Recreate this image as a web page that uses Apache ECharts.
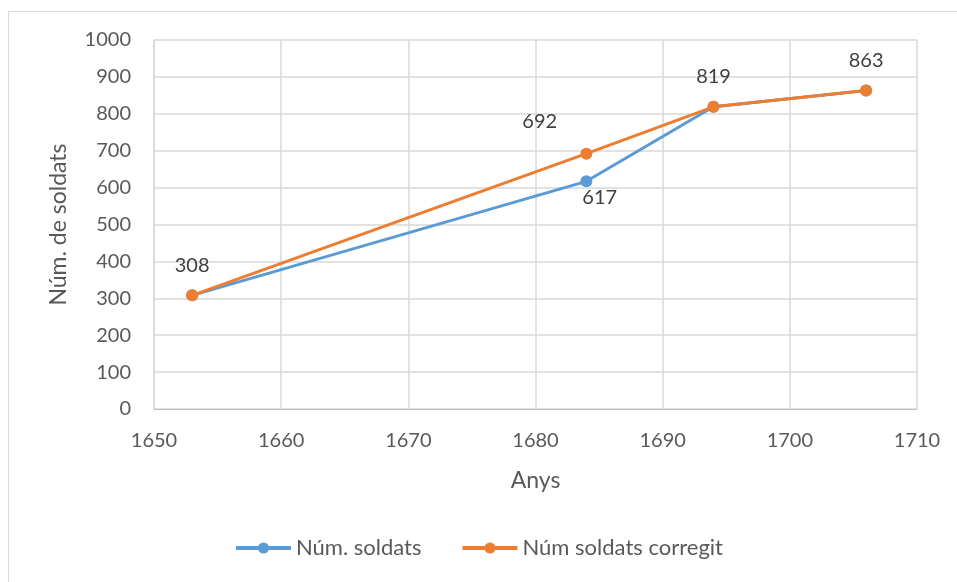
<!DOCTYPE html>
<html>
<head>
<meta charset="utf-8">
<title>Núm. de soldats</title>
<style>
  html, body { margin: 0; padding: 0; background: #fff; }
  #chart { width: 957px; height: 582px; }
  .frame { position: absolute; left: 8px; top: 11px; width: 960px; height: 600px; border: 1px solid #d9d9d9; box-sizing: border-box; pointer-events: none; }
</style>
</head>
<body>
<div id="chart"></div>
<div class="frame"></div>
<script src="https://cdn.jsdelivr.net/npm/echarts@6/dist/echarts.min.js"></script>
<script>
// dades
var anys = [1653, 1684, 1694, 1706];
var soldats = [308, 617, 819, 863];
var corregit = [308, 692, 819, 863];
var seriesNames = ['Núm. soldats', 'Núm soldats corregit'];

var textColor = '#595959';
var fontFam = 'Lato, "Open Sans", sans-serif';

function pairs(xs, ys) {
  return xs.map(function (x, i) { return [x, ys[i]]; });
}
function plain(v) { return String(v); }

// blue: only the 617 label shows (below), orange: the rest
var blueData = pairs(anys, soldats).map(function (p, i) {
  return { value: p, label: { show: i === 1, position: [2, 12] } };
});
var orangeData = pairs(anys, corregit).map(function (p, i) {
  var pos = i === 1 ? [-58, -36] : 'top';
  return { value: p, label: { show: true, position: pos, distance: 14 } };
});

var chart = echarts.init(document.getElementById('chart'));
chart.setOption({
  animation: false,
  textStyle: { fontFamily: fontFam },
  grid: { left: 154, right: 40, top: 40, bottom: 173 },
  legend: {
    bottom: 18,
    left: 'center',
    itemWidth: 55,
    itemHeight: 14,
    itemGap: 39,
    lineStyle: { width: 4 },
    textStyle: { color: textColor, fontSize: 22, fontFamily: fontFam },
    data: seriesNames
  },
  xAxis: {
    type: 'value',
    min: 1650, max: 1710, interval: 10,
    name: 'Anys',
    nameLocation: 'middle',
    nameGap: 60,
    nameTextStyle: { color: textColor, fontSize: 23 },
    axisLine: { show: true, lineStyle: { color: '#bfbfbf', width: 1 } },
    axisTick: { show: false },
    axisLabel: { color: textColor, fontSize: 20, margin: 22, formatter: plain },
    splitLine: { show: true, lineStyle: { color: '#d9d9d9', width: 1.5 } }
  },
  yAxis: {
    type: 'value',
    min: 0, max: 1000, interval: 100,
    name: 'Núm. de soldats',
    nameLocation: 'middle',
    nameGap: 84,
    nameTextStyle: { color: textColor, fontSize: 23 },
    axisLine: { show: true, lineStyle: { color: '#d9d9d9', width: 1.5 } },
    axisTick: { show: false },
    axisLabel: { color: textColor, fontSize: 20, margin: 23, formatter: plain },
    splitLine: { show: true, lineStyle: { color: '#d9d9d9', width: 1.5 } }
  },
  series: [
    {
      name: seriesNames[0],
      type: 'line',
      data: blueData,
      symbol: 'circle',
      symbolSize: 12,
      itemStyle: { color: '#5b9bd5' },
      lineStyle: { color: '#5b9bd5', width: 3 },
      label: { color: '#404040', fontSize: 20 }
    },
    {
      name: seriesNames[1],
      type: 'line',
      data: orangeData,
      symbol: 'circle',
      symbolSize: 12,
      itemStyle: { color: '#ed7d31' },
      lineStyle: { color: '#ed7d31', width: 3 },
      label: { color: '#404040', fontSize: 20 }
    }
  ]
});
</script>
</body>
</html>
